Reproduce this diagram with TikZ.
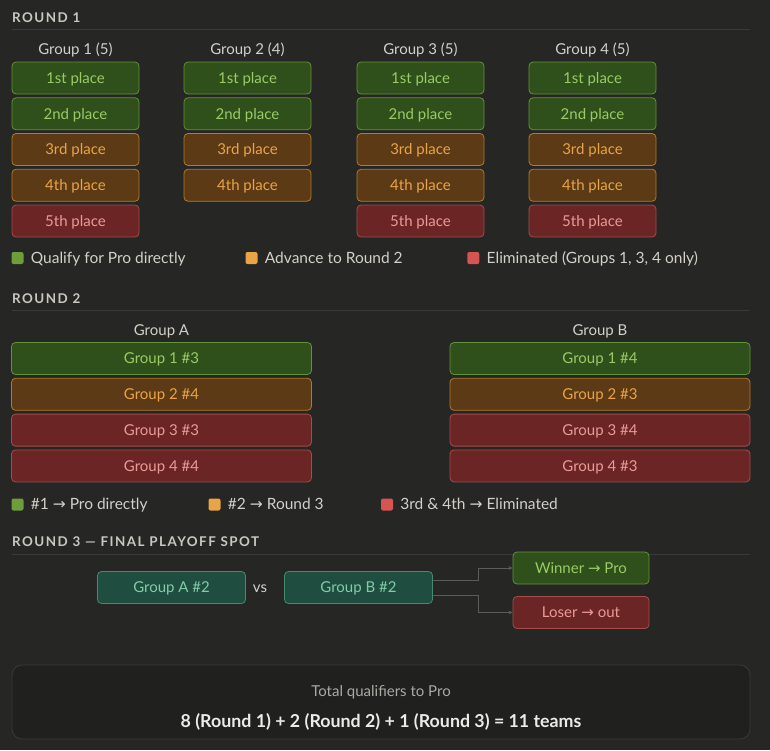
\documentclass[tikz,border=0pt]{standalone}
\usepackage{fontspec}
\setmainfont{Lato}
\newfontfamily\headfont[LetterSpace=11]{Lato}
\newfontfamily\symfont{DejaVu Sans}
\usetikzlibrary{positioning,arrows.meta}

\definecolor{bg}{HTML}{262624}
\definecolor{rulecol}{HTML}{3A3A37}
\definecolor{headtext}{HTML}{C9C7C0}
\definecolor{labeltext}{HTML}{D2D0C8}
\definecolor{qualfill}{HTML}{2F4F1B}
\definecolor{qualline}{HTML}{62923A}
\definecolor{qualtext}{HTML}{9ACB66}
\definecolor{advfill}{HTML}{5C3A15}
\definecolor{advline}{HTML}{B27A2C}
\definecolor{advtext}{HTML}{EAA445}
\definecolor{elimfill}{HTML}{6C2525}
\definecolor{elimline}{HTML}{A24C4C}
\definecolor{elimtext}{HTML}{EA9A98}
\definecolor{playfill}{HTML}{1F4E40}
\definecolor{playline}{HTML}{45896F}
\definecolor{playtext}{HTML}{80CCA8}
\definecolor{keyqual}{HTML}{6E9E3A}
\definecolor{keyadv}{HTML}{E8A445}
\definecolor{keyelim}{HTML}{D65550}
\definecolor{wirecol}{HTML}{5C5C59}

\newcommand\toarr{{\symfont\char"2192}}

\tikzset{
  box/.style={draw, rounded corners=4pt, line width=0.8pt, inner sep=0pt,
    minimum height=32pt, text height=10.8pt, text depth=0pt,
    font=\fontsize{15}{17}\selectfont},
  place/.style={box, minimum width=127pt},
  wide/.style={box, minimum width=300pt},
  qual/.style={fill=qualfill, draw=qualline, text=qualtext},
  adv/.style={fill=advfill, draw=advline, text=advtext},
  elim/.style={fill=elimfill, draw=elimline, text=elimtext},
  playoff/.style={box, minimum width=148pt, fill=playfill, draw=playline, text=playtext},
  result/.style={box, minimum width=136pt},
  head/.style={anchor=base west, inner sep=0pt, text=headtext,
    font=\headfont\bfseries\fontsize{13.4}{15}\selectfont},
  rule/.style={draw=rulecol, line width=0.8pt},
  grouplabel/.style={anchor=base, inner sep=0pt, text=labeltext,
    font=\fontsize{15}{17}\selectfont},
  key/.style={minimum size=12pt, inner sep=0pt, rounded corners=2pt},
  keytext/.style={anchor=west, inner sep=0pt, text=labeltext,
    text height=10.8pt, text depth=0pt, font=\fontsize{15.5}{17}\selectfont},
  wire/.style={draw=wirecol, line width=0.8pt, -{Stealth[length=4pt,width=4pt]}}
}

\begin{document}
\begin{tikzpicture}[x=1pt,y=-1pt]
\useasboundingbox[fill=bg] (0,0) rectangle (770,750);

% round 1
\node[head] (r1) at (12,22.7) {ROUND 1};
\draw[rule] (12,29.5) -- (750,29.5);

\foreach \g/\x/\n in {1/75.5/5, 2/247.5/4, 3/420.5/5, 4/592.5/5} {
  \node[grouplabel] (g\g) at (\x,54.5) {Group \g\ (\n)};
  \node[place,qual] (g\g p1) at (\x,78) {1st place};
  \node[place,qual] (g\g p2) at (\x,113.75) {2nd place};
  \node[place,adv] (g\g p3) at (\x,149.5) {3rd place};
  \node[place,adv] (g\g p4) at (\x,185.25) {4th place};
  \ifnum\n>4
    \node[place,elim] (g\g p5) at (\x,221) {5th place};
  \fi
}

\node[key,fill=keyqual] (k1a) at (17.5,258) {};
\node[keytext,right=7pt of k1a] (k1at) {Qualify for Pro directly};
\node[key,fill=keyadv] (k1b) at (251.5,258) {};
\node[keytext,right=7pt of k1b] (k1bt) {Advance to Round 2};
\node[key,fill=keyelim] (k1c) at (473.3,258) {};
\node[keytext,right=7pt of k1c] (k1ct) {Eliminated (Groups 1, 3, 4 only)};

% round 2
\node[head] (r2) at (12,303.3) {ROUND 2};
\draw[rule] (12,310.5) -- (750,310.5);

\node[grouplabel] (ga) at (161.5,335.5) {Group A};
\node[wide,qual] (ga1) at (161.5,358.5) {Group 1 \#3};
\node[wide,adv] (ga2) at (161.5,394.3) {Group 2 \#4};
\node[wide,elim] (ga3) at (161.5,430.1) {Group 3 \#3};
\node[wide,elim] (ga4) at (161.5,465.9) {Group 4 \#4};

\node[grouplabel] (gb) at (600,335.5) {Group B};
\node[wide,qual] (gb1) at (600,358.5) {Group 1 \#4};
\node[wide,adv] (gb2) at (600,394.3) {Group 2 \#3};
\node[wide,elim] (gb3) at (600,430.1) {Group 3 \#4};
\node[wide,elim] (gb4) at (600,465.9) {Group 4 \#3};

\node[key,fill=keyqual] (k2a) at (17.5,504.5) {};
\node[keytext,right=7pt of k2a] (k2at) {\#1 \toarr\ Pro directly};
\node[key,fill=keyadv] (k2b) at (214.5,504.5) {};
\node[keytext,right=7pt of k2b] (k2bt) {\#2 \toarr\ Round 3};
\node[key,fill=keyelim] (k2c) at (387,504.5) {};
\node[keytext,right=7pt of k2c] (k2ct) {3rd \& 4th \toarr\ Eliminated};

% round 3
\node[head] (r3) at (12,546.7) {ROUND 3 — FINAL PLAYOFF SPOT};
\draw[rule] (12,554.5) -- (750,554.5);

\node[playoff] (pa) at (171.5,587.5) {Group A \#2};
\node[grouplabel,anchor=center,text height=8pt,text depth=0pt] (vs) at (260,588) {vs};
\node[playoff] (pb) at (358.5,587.5) {Group B \#2};
\node[result,qual] (win) at (581,568) {Winner \toarr\ Pro};
\node[result,elim] (lose) at (581,612.5) {Loser \toarr\ out};

\draw[wire] ([yshift=7.5pt]pb.east) -- ++(45,0) |- (win.west);
\draw[wire] ([yshift=-7.5pt]pb.east) -- ++(45,0) |- (lose.west);

% total
\node[draw=rulecol, line width=0.8pt, fill=bg!85!black, rounded corners=10pt,
  minimum width=738pt, minimum height=74pt] (sum) at (381,702) {};
\node[grouplabel, text=headtext!85!black, font=\fontsize{15}{17}\selectfont]
  (sumt) at (381,696) {Total qualifiers to Pro};
\node[grouplabel, text=white!92!black, font=\bfseries\fontsize{17.8}{20}\selectfont]
  (sumv) at (381,727) {8 (Round 1) + 2 (Round 2) + 1 (Round 3) = 11 teams};
\end{tikzpicture}
\end{document}
